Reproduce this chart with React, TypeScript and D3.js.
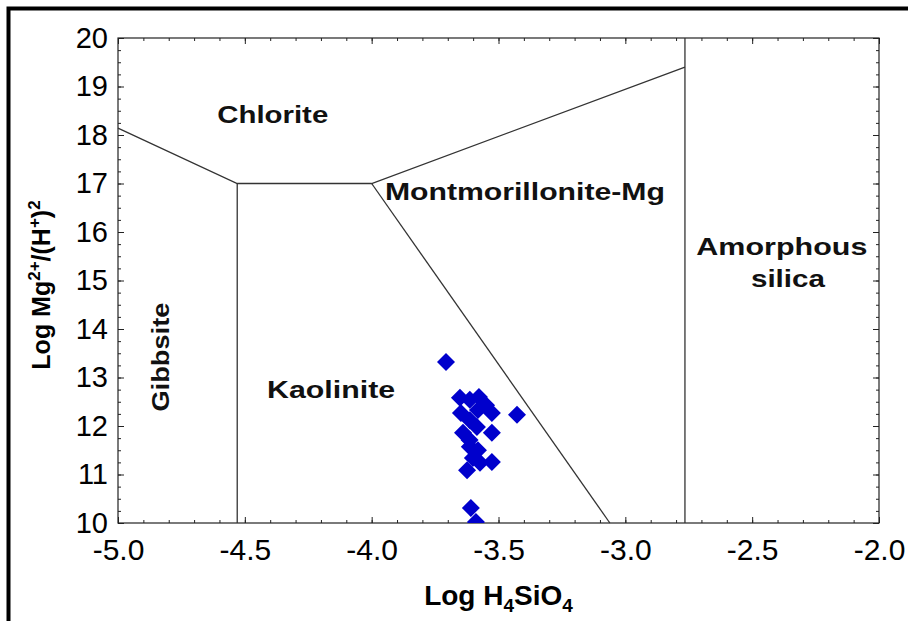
import { useEffect, useRef } from "react";
import * as d3 from "d3";

// sample points (log H4SiO4, log Mg2+/(H+)2)
const siVals = [
  -3.707, -3.652, -3.577, -3.526, -3.427, -3.648, -3.581, -3.613, -3.585,
  -3.64, -3.526, -3.613, -3.581, -3.601, -3.573, -3.526, -3.624, -3.609,
  -3.589, -3.614, -3.613, -3.549,
];
const mgVals = [
  13.32, 12.58, 12.6, 12.27, 12.23, 12.27, 12.33, 12.12, 11.98, 11.86, 11.86,
  11.57, 11.5, 11.34, 11.24, 11.26, 11.09, 10.31, 10.02, 11.71, 12.54, 12.43,
];

// stability field boundaries
const boundaries: [number, number][][] = [
  [
    [-5.0, 18.14],
    [-4.53, 17.0],
    [-4.0, 17.0],
    [-2.765, 19.4],
  ],
  [
    [-4.53, 17.0],
    [-4.53, 10.0],
  ],
  [
    [-4.0, 17.0],
    [-3.061, 10.0],
  ],
  [
    [-2.765, 10.0],
    [-2.765, 20.0],
  ],
];

// field labels: text, x, y (data units), rotation, width
const fieldLabels: [string, number, number, number, number][] = [
  ["Chlorite", -4.39, 18.24, 0, 111],
  ["Montmorillonite-Mg", -3.396, 16.67, 0, 280],
  ["Amorphous", -2.383, 15.53, 0, 171],
  ["silica", -2.359, 14.87, 0, 74],
  ["Kaolinite", -4.16, 12.58, 0, 128],
  ["Gibbsite", -4.8, 13.42, -90, 109],
];

const xMajor = [-5.0, -4.5, -4.0, -3.5, -3.0, -2.5, -2.0];
const yMajor = [10, 11, 12, 13, 14, 15, 16, 17, 18, 19, 20];

export default function App() {
  const ref = useRef<SVGSVGElement>(null);

  useEffect(() => {
    if (!ref.current) return;
    const svg = d3.select(ref.current);
    svg.selectAll("*").remove();

    const W = 908;
    const H = 621;
    const m = { top: 38, right: 29, bottom: 98, left: 118 };
    const w = W - m.left - m.right;
    const h = H - m.top - m.bottom;
    const font = "'Liberation Sans', Arial, sans-serif";

    svg.attr("width", W).attr("height", H).attr("viewBox", `0 0 ${W} ${H}`);

    // outer frame (cut off at right and bottom)
    svg
      .append("rect")
      .attr("x", 8.5)
      .attr("y", 8.5)
      .attr("width", 1000)
      .attr("height", 1000)
      .attr("fill", "none")
      .attr("stroke", "#000")
      .attr("stroke-width", 4);

    const x = d3.scaleLinear().domain([-5, -2]).range([0, w]);
    const y = d3.scaleLinear().domain([10, 20]).range([h, 0]);

    const g = svg
      .append("g")
      .attr("transform", `translate(${m.left},${m.top})`);

    g.append("clipPath")
      .attr("id", "plot-clip")
      .append("rect")
      .attr("width", w)
      .attr("height", h);

    const xMinor = d3.range(-5, -1.99, 0.1);
    const yMinor = d3.range(10, 20.01, 0.25);

    const styleAxis = (a: any, size: number) => {
      a.select(".domain").remove();
      a.selectAll("line").attr("stroke", "#222").attr("stroke-width", 1);
      a.selectAll("text")
        .attr("font-size", size)
        .attr("font-family", font)
        .attr("fill", "#000");
    };

    // minor ticks
    g.append("g")
      .attr("transform", `translate(0,${h})`)
      .call(d3.axisBottom(x).tickValues(xMinor).tickSize(-3).tickFormat(() => ""))
      .call((a) => styleAxis(a, 0));
    g.append("g")
      .call(d3.axisTop(x).tickValues(xMinor).tickSize(-3).tickFormat(() => ""))
      .call((a) => styleAxis(a, 0));
    g.append("g")
      .call(d3.axisLeft(y).tickValues(yMinor).tickSize(-3).tickFormat(() => ""))
      .call((a) => styleAxis(a, 0));
    g.append("g")
      .attr("transform", `translate(${w},0)`)
      .call(d3.axisRight(y).tickValues(yMinor).tickSize(-3).tickFormat(() => ""))
      .call((a) => styleAxis(a, 0));

    // major ticks
    g.append("g")
      .attr("transform", `translate(0,${h})`)
      .call(
        d3
          .axisBottom(x)
          .tickValues(xMajor)
          .tickSize(-6)
          .tickPadding(16)
          .tickFormat((d) => (d as number).toFixed(1)),
      )
      .call((a) => styleAxis(a, 30));
    g.append("g")
      .call(d3.axisTop(x).tickValues(xMajor).tickSize(-6).tickFormat(() => ""))
      .call((a) => styleAxis(a, 0));
    g.append("g")
      .call(
        d3
          .axisLeft(y)
          .tickValues(yMajor)
          .tickSize(-6)
          .tickPadding(10)
          .tickFormat((d) => String(d)),
      )
      .call((a) => styleAxis(a, 29));
    g.append("g")
      .attr("transform", `translate(${w},0)`)
      .call(d3.axisRight(y).tickValues(yMajor).tickSize(-6).tickFormat(() => ""))
      .call((a) => styleAxis(a, 0));

    // plot frame
    g.append("rect")
      .attr("width", w)
      .attr("height", h)
      .attr("fill", "none")
      .attr("stroke", "#222")
      .attr("stroke-width", 1.2);

    // boundaries
    const line = d3
      .line<[number, number]>()
      .x((d) => x(d[0]))
      .y((d) => y(d[1]));
    g.selectAll("path.boundary")
      .data(boundaries)
      .join("path")
      .attr("class", "boundary")
      .attr("d", (d) => line(d))
      .attr("fill", "none")
      .attr("stroke", "#333")
      .attr("stroke-width", 1.3);

    // field labels
    fieldLabels.forEach(([t, lx, ly, rot, len]) => {
      g.append("text")
        .attr(
          "transform",
          `translate(${x(lx)},${y(ly)}) rotate(${rot})`,
        )
        .attr("text-anchor", "middle")
        .attr("font-family", font)
        .attr("font-weight", "bold")
        .attr("font-size", 24)
        .attr("textLength", len)
        .attr("lengthAdjust", "spacingAndGlyphs")
        .attr("fill", "#111")
        .text(t);
    });

    // points
    const pts = siVals.map((v, i) => ({ si: v, mg: mgVals[i] }));
    const r = 9;
    g.append("g")
      .attr("clip-path", "url(#plot-clip)")
      .selectAll("path")
      .data(pts)
      .join("path")
      .attr(
        "d",
        (d) =>
          `M${x(d.si)},${y(d.mg) - r}L${x(d.si) + r},${y(d.mg)}L${x(d.si)},${y(d.mg) + r}L${x(d.si) - r},${y(d.mg)}Z`,
      )
      .attr("fill", "#0000CC");

    // axis titles
    const xt = svg
      .append("text")
      .attr("x", m.left + x(-3.5))
      .attr("y", 605)
      .attr("text-anchor", "middle")
      .attr("font-family", font)
      .attr("font-weight", "bold")
      .attr("font-size", 28)
      .attr("fill", "#000");
    xt.append("tspan").text("Log H");
    xt.append("tspan").attr("font-size", 19).attr("dy", 7).text("4");
    xt.append("tspan").attr("dy", -7).text("SiO");
    xt.append("tspan").attr("font-size", 19).attr("dy", 7).text("4");

    const yt = svg
      .append("text")
      .attr("transform", "translate(50,285) rotate(-90)")
      .attr("text-anchor", "middle")
      .attr("font-family", font)
      .attr("font-weight", "bold")
      .attr("font-size", 25)
      .attr("fill", "#000");
    yt.append("tspan").text("Log Mg");
    yt.append("tspan").attr("font-size", 17).attr("dy", -10).text("2+");
    yt.append("tspan").attr("dy", 10).text("/(H");
    yt.append("tspan").attr("font-size", 17).attr("dy", -10).text("+");
    yt.append("tspan").attr("dy", 10).text(")");
    yt.append("tspan").attr("font-size", 17).attr("dy", -10).text("2");
  }, []);

  return (
    <div style={{ position: "fixed", left: 0, top: 0, background: "#fff" }}>
      <svg ref={ref} style={{ display: "block" }} />
    </div>
  );
}
